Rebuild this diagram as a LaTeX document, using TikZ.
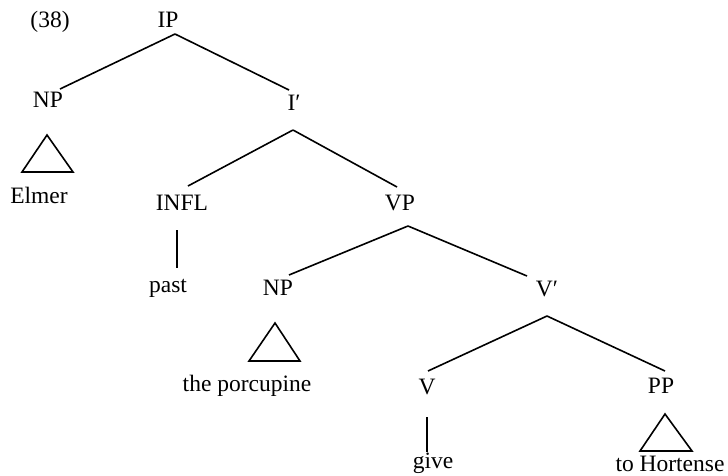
\documentclass[tikz,border=0pt]{standalone}
\usepackage{fontspec}
\setmainfont{Liberation Serif}
\begin{document}
\begin{tikzpicture}[x=1pt,y=-1pt,
  lab/.style={anchor=base,inner sep=0pt,font=\fontsize{23.5}{28}\selectfont},
  edge/.style={line width=1.6pt},
  tri/.style={line width=1.6pt,line join=miter}]
\useasboundingbox (0,0) rectangle (728,475);
\node[lab] (ex) at (50,27) {(38)};
\node[lab] (IP) at (168,27) {IP};
\node[lab] (NP1) at (48,107) {NP};
\node[lab] (Ib) at (294,110) {I′};
\node[lab] (Elmer) at (39,203) {Elmer};
\node[lab] (INFL) at (182,210) {INFL};
\node[lab] (VP) at (400,210) {VP};
\node[lab] (past) at (168,292) {past};
\node[lab] (NP2) at (278,295) {NP};
\node[lab] (Vb) at (547,296) {V′};
\node[lab] (porc) at (247,391) {the porcupine};
\node[lab] (V) at (427,394) {V};
\node[lab] (PP) at (661,393) {PP};
\node[lab] (give) at (433,468) {give};
\node[lab] (hort) at (670,471) {to Hortense};
% branches
\draw[edge] ([shift={(7,7)}]IP.base) -- ([shift={(12,-18)}]NP1.base);
\draw[edge] ([shift={(7,7)}]IP.base) -- ([shift={(-5,-20)}]Ib.base);
\draw[edge] ([shift={(-1,20)}]Ib.base) -- ([shift={(6,-24)}]INFL.base);
\draw[edge] ([shift={(-1,20)}]Ib.base) -- ([shift={(-3,-23)}]VP.base);
\draw[edge] ([shift={(-5,20)}]INFL.base) -- ([shift={(9,-24)}]past.base);
\draw[edge] ([shift={(8,16)}]VP.base) -- ([shift={(11,-20)}]NP2.base);
\draw[edge] ([shift={(8,16)}]VP.base) -- ([shift={(-20,-20)}]Vb.base);
\draw[edge] ([shift={(0,20)}]Vb.base) -- ([shift={(1,-23)}]V.base);
\draw[edge] ([shift={(0,20)}]Vb.base) -- ([shift={(4,-22)}]PP.base);
\draw[edge] ([shift={(0,23)}]V.base) -- ([shift={(-6,-16)}]give.base);
% triangles
\draw[tri] ([shift={(-1,28)}]NP1.base) -- ([shift={(-26,65)}]NP1.base) -- ([shift={(25,65)}]NP1.base) -- cycle;
\draw[tri] ([shift={(-3,28)}]NP2.base) -- ([shift={(-29,66)}]NP2.base) -- ([shift={(22,66)}]NP2.base) -- cycle;
\draw[tri] ([shift={(4,21)}]PP.base) -- ([shift={(-21,58)}]PP.base) -- ([shift={(31,58)}]PP.base) -- cycle;
\end{tikzpicture}
\end{document}
